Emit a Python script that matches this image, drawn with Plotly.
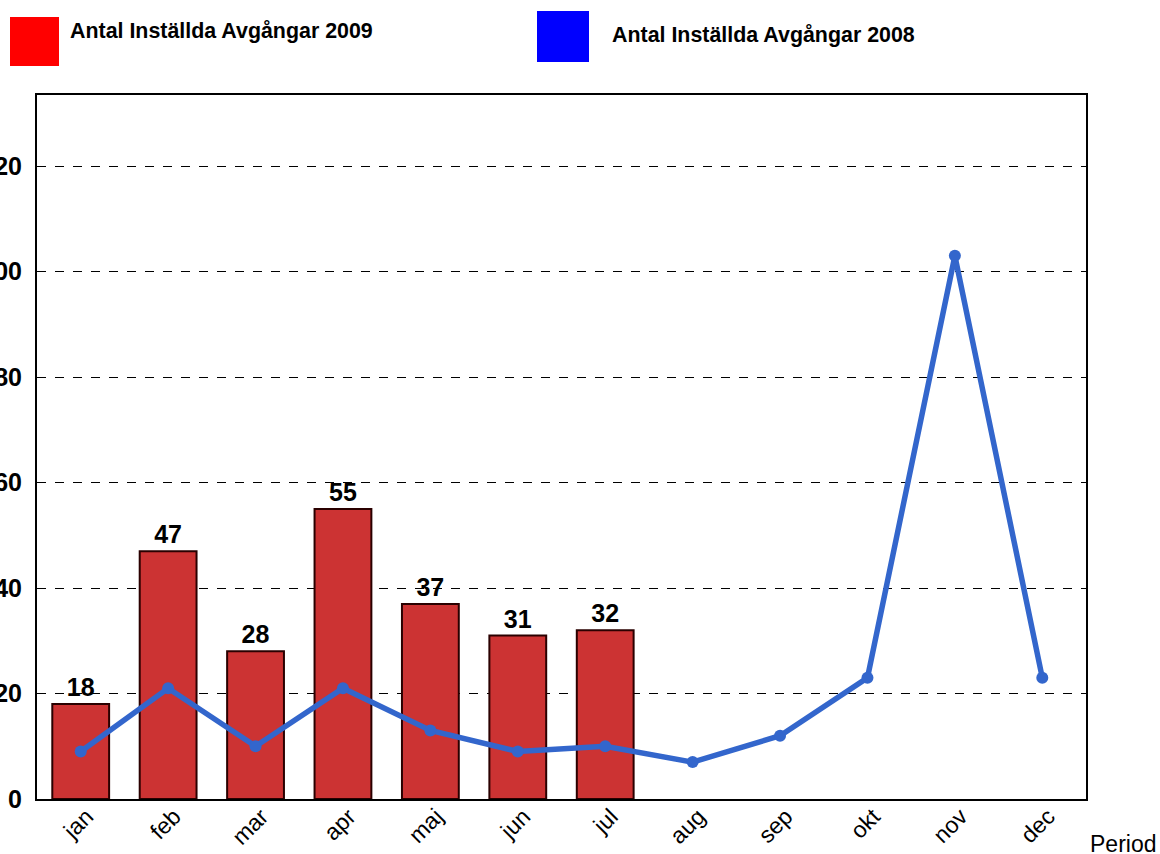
import plotly.graph_objects as go

months = ["jan", "feb", "mar", "apr", "maj", "jun", "jul", "aug", "sep", "okt", "nov", "dec"]
bar_months = ["jan", "feb", "mar", "apr", "maj", "jun", "jul"]
values_2009 = [18, 47, 28, 55, 37, 31, 32]
values_2008 = [9, 21, 10, 21, 13, 9, 10, 7, 12, 23, 103, 23]
y_ticks = [0, 20, 40, 60, 80, 100, 120]
legend_2009 = "Antal Inställda Avgångar 2009"
legend_2008 = "Antal Inställda Avgångar 2008"

font_family = "Liberation Sans, Arial, sans-serif"

W, H = 1160, 854
L, R, T, B = 37, 74, 95, 55
PW, PH = W - L - R, H - T - B


def px(x):
    return (x - L) / PW


def py(y):
    return (H - B - y) / PH


fig = go.Figure()
fig.add_trace(go.Bar(
    x=bar_months, y=values_2009, name=legend_2009,
    marker=dict(color="#CC3333", line=dict(color="#2a0000", width=2)),
    width=0.65,
    text=[str(v) for v in values_2009], textposition="outside",
    textfont=dict(family=font_family, size=25, color="black", weight="bold"),
    cliponaxis=False,
))
fig.add_trace(go.Scatter(
    x=months, y=values_2008, name=legend_2008, mode="lines+markers",
    line=dict(color="#3366CC", width=5.5),
    marker=dict(color="#3366CC", size=12),
))

fig.update_layout(
    width=W, height=H,
    margin=dict(l=L, r=R, t=T, b=B),
    paper_bgcolor="white", plot_bgcolor="white",
    showlegend=False,
    font=dict(family=font_family, color="black"),
    xaxis=dict(
        type="category", categoryorder="array", categoryarray=months,
        range=[-0.5, 11.5],
        tickangle=-45, tickfont=dict(size=23, family=font_family),
        ticklabelshift=6, ticklabelstandoff=-7,
        showline=True, linecolor="black", linewidth=2, mirror=True,
        showgrid=False, ticks="", automargin=False,
    ),
    yaxis=dict(
        range=[0, 133.5], tickvals=y_ticks,
        tickfont=dict(size=25, family=font_family, weight="bold"),
        ticklabelstandoff=8,
        showline=True, linecolor="black", linewidth=2, mirror=True,
        showgrid=True, gridcolor="black", griddash="dash", gridwidth=1,
        zeroline=False, ticks="", automargin=False,
    ),
    shapes=[
        dict(type="rect", xref="paper", yref="paper",
             x0=px(10), x1=px(59), y0=py(66), y1=py(17),
             fillcolor="#FF0000", line=dict(width=0)),
        dict(type="rect", xref="paper", yref="paper",
             x0=px(537), x1=px(589), y0=py(62), y1=py(11),
             fillcolor="#0000FF", line=dict(width=0)),
    ],
    annotations=[
        dict(text=legend_2009, xref="paper", yref="paper",
             x=px(68), y=py(31), xanchor="left", yanchor="middle",
             showarrow=False, font=dict(size=21.4, family=font_family, weight="bold")),
        dict(text=legend_2008, xref="paper", yref="paper",
             x=px(610), y=py(35), xanchor="left", yanchor="middle",
             showarrow=False, font=dict(size=21.4, family=font_family, weight="bold")),
        dict(text="Period", xref="paper", yref="paper",
             x=px(1088), y=py(844), xanchor="left", yanchor="middle",
             showarrow=False, font=dict(size=23, family=font_family)),
    ],
)

fig.write_html(
    "out.html",
    config={"displayModeBar": False},
    post_script="document.body.style.margin='0';document.body.style.overflow='hidden';",
)
